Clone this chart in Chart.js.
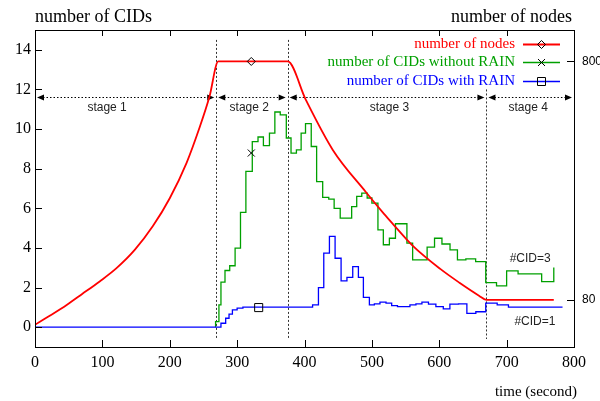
<!DOCTYPE html>
<html>
<head>
<meta charset="utf-8">
<script src="https://cdn.jsdelivr.net/npm/chart.js@4.4.0/dist/chart.umd.min.js"></script>
<style>
html,body{margin:0;padding:0;background:#fff;}
canvas{display:block;}
</style>
</head>
<body>
<canvas id="myChart" width="600" height="401"></canvas>
<script>
// number of nodes (right axis)
const nodeTime  = [0, 20, 47, 70, 96, 121, 148, 175, 200, 225, 244, 259, 272, 375, 402, 442, 491, 518, 531, 560, 602, 630, 659, 670, 770];
const nodeCount = [5, 30, 65, 98, 136, 176, 231, 303, 387, 494, 599, 694, 800, 800, 684, 533, 406, 340, 310, 245, 173, 132, 93, 80, 80];

// number of CIDs without RAIN (step: value starts at time)
const noRainTime = [268, 268, 273, 276, 282, 289, 297, 305, 313, 322.5, 331, 339, 348, 356, 364, 373, 380, 388, 395, 401.5, 410, 418, 427, 436, 444, 453, 470, 477.5, 485, 493, 500, 509, 517, 526, 535, 552, 560.5, 582, 593, 604, 616, 627, 639.5, 654, 669, 685, 700, 717, 752, 770];
const noRainCid  = [0, 0.28, 1.13, 2.27, 2.86, 3.1, 3.99, 5.79, 7.86, 9.37, 9.6, 9.16, 9.8, 10.86, 10.72, 9.55, 8.79, 8.95, 9.8, 10.27, 9.12, 7.35, 6.55, 6.46, 6.0, 5.5, 6.09, 6.6, 6.77, 6.52, 6.26, 4.91, 4.16, 4.49, 5.22, 4.24, 3.4, 4.04, 4.49, 4.2, 3.9, 3.4, 3.45, 3.31, 2.25, 2.09, 2.84, 2.69, 2.3, 3.01];

// number of CIDs with RAIN
const rainTime = [0, 276, 283, 288, 293, 300, 308.6, 412, 420.7, 428.6, 437, 445.4, 454.3, 463, 471.6, 480, 487.4, 496.3, 503.7, 512, 521, 529.4, 538, 556.5, 565.4, 574.3, 584, 595, 606, 615.8, 628.6, 641, 654.3, 669, 686, 702.7, 783];
const rainCid  = [0, 0.2, 0.45, 0.66, 0.87, 0.96, 1.01, 1.13, 2.0, 3.74, 4.58, 3.48, 2.34, 2.51, 3.06, 2.51, 1.5, 1.13, 1.18, 1.26, 1.21, 1.09, 1.04, 1.13, 1.18, 1.26, 1.16, 1.04, 0.92, 1.16, 1.18, 0.7, 0.78, 1.21, 1.13, 1.01, 1.01];

// one marker per series
const markNodes  = {x: 321, y: 800};
const markNoRain = {x: 321, y: 8.79};
const markRain   = {x: 332, y: 0.99};

const xTicks = [0, 100, 200, 300, 400, 500, 600, 700, 800];
const yTicks = [0, 2, 4, 6, 8, 10, 12, 14];
const y2Ticks = [80, 800];

const stageEdges = [0, 269, 375, 670, 800];
const stageNames = ['stage 1', 'stage 2', 'stage 3', 'stage 4'];
const stageLabelX = [107, 318, 526, 732];
const stageLineTop = [14.5, 14.5, 12.0];
const arrowLevel = 11.6;

const serif = "'Liberation Serif', 'DejaVu Serif', serif";
const sans = "'Liberation Sans', Arial, sans-serif";

const toPts = (xs, ys) => xs.map((t, i) => ({x: t, y: ys[i]}));

function arrowHead(ctx, x, y, dir){
    ctx.beginPath();
    ctx.moveTo(x, y);
    ctx.lineTo(x + dir*7, y - 3);
    ctx.lineTo(x + dir*7, y + 3);
    ctx.closePath();
    ctx.fill();
}

function marker(ctx, kind, x, y){
    ctx.save();
    ctx.strokeStyle = '#000';
    ctx.lineWidth = 1;
    ctx.beginPath();
    if(kind === 'diamond'){
        ctx.moveTo(x, y-4); ctx.lineTo(x+4, y); ctx.lineTo(x, y+4); ctx.lineTo(x-4, y); ctx.closePath();
    } else if(kind === 'cross'){
        ctx.moveTo(x-3.5, y-3.5); ctx.lineTo(x+3.5, y+3.5);
        ctx.moveTo(x+3.5, y-3.5); ctx.lineTo(x-3.5, y+3.5);
    } else {
        ctx.rect(x-4, y-4, 8, 8);
    }
    ctx.stroke();
    ctx.restore();
}

const decor = {
    id: 'decor',
    beforeDatasetsDraw(chart){
        const ctx = chart.ctx;
        const x = chart.scales.x, y = chart.scales.y;
        ctx.save();
        ctx.strokeStyle = '#333';
        ctx.lineWidth = 1;
        ctx.setLineDash([2, 2]);
        stageEdges.slice(1, 4).forEach((t, i) => {
            const px = Math.round(x.getPixelForValue(t)) + 0.5;
            ctx.beginPath();
            ctx.moveTo(px, y.getPixelForValue(stageLineTop[i]));
            ctx.lineTo(px, y.getPixelForValue(-0.6));
            ctx.stroke();
        });
        const ay = Math.round(y.getPixelForValue(arrowLevel)) + 0.5;
        ctx.fillStyle = '#000';
        ctx.strokeStyle = '#000';
        for(let i = 0; i < stageEdges.length - 1; i++){
            const x1 = x.getPixelForValue(stageEdges[i]) + 2;
            const x2 = x.getPixelForValue(stageEdges[i+1]) - 2;
            ctx.setLineDash([1.5, 2]);
            ctx.beginPath();
            ctx.moveTo(x1 + 6, ay);
            ctx.lineTo(x2 - 6, ay);
            ctx.stroke();
            ctx.setLineDash([]);
            arrowHead(ctx, x1, ay, 1);
            arrowHead(ctx, x2, ay, -1);
        }
        ctx.font = '12px ' + sans;
        ctx.fillStyle = '#222';
        ctx.textAlign = 'center';
        ctx.textBaseline = 'middle';
        stageNames.forEach((s, i) => {
            ctx.fillText(s, x.getPixelForValue(stageLabelX[i]), y.getPixelForValue(11.1));
        });
        ctx.restore();
    },
    afterDraw(chart){
        const ctx = chart.ctx;
        const a = chart.chartArea;
        const x = chart.scales.x, y = chart.scales.y, y2 = chart.scales.y2;
        ctx.save();
        // frame
        ctx.strokeStyle = '#000';
        ctx.lineWidth = 1;
        ctx.strokeRect(Math.round(a.left)+0.5, Math.round(a.top)+0.5, Math.round(a.right-a.left), Math.round(a.bottom-a.top));
        // inward ticks
        ctx.beginPath();
        xTicks.forEach(v => {
            const px = Math.round(x.getPixelForValue(v)) + 0.5;
            ctx.moveTo(px, a.bottom); ctx.lineTo(px, a.bottom - 7);
            ctx.moveTo(px, a.top); ctx.lineTo(px, a.top + 6);
        });
        yTicks.forEach(v => {
            const py = Math.round(y.getPixelForValue(v)) + 0.5;
            ctx.moveTo(a.left, py); ctx.lineTo(a.left + 7, py);
        });
        y2Ticks.forEach(v => {
            const py = Math.round(y2.getPixelForValue(v)) + 0.5;
            ctx.moveTo(a.right, py); ctx.lineTo(a.right - 7, py);
        });
        ctx.stroke();

        // axis titles
        ctx.fillStyle = '#000';
        ctx.textBaseline = 'middle';
        ctx.font = '18px ' + serif;
        ctx.textAlign = 'left';
        ctx.fillText('number of CIDs', 35, 17);
        ctx.textAlign = 'right';
        ctx.fillText('number of nodes', 572, 17);
        ctx.font = '15px ' + serif;
        ctx.fillText('time (second)', 577, 392);

        // notes
        ctx.font = '12px ' + sans;
        ctx.fillStyle = '#222';
        ctx.textAlign = 'center';
        ctx.fillText('#CID=3', x.getPixelForValue(735), y.getPixelForValue(3.45));
        ctx.fillText('#CID=1', x.getPixelForValue(742), y.getPixelForValue(0.28));

        // legend
        const kinds = ['diamond', 'cross', 'square'];
        const rows = [44, 62, 81];
        ctx.font = '15px ' + serif;
        ctx.textAlign = 'right';
        [0, 1, 2].forEach(i => {
            const ds = chart.data.datasets[i];
            ctx.fillStyle = ds.borderColor;
            ctx.fillText(ds.label, 515, rows[i]);
            ctx.strokeStyle = ds.borderColor;
            ctx.lineWidth = ds.borderWidth;
            ctx.beginPath();
            ctx.moveTo(523, rows[i] + 0.5);
            ctx.lineTo(560, rows[i] + 0.5);
            ctx.stroke();
            marker(ctx, kinds[i], 541.5, rows[i] + 0.5);
        });
        ctx.restore();
    }
};

const ctx = document.getElementById('myChart');
const myChart = new Chart(ctx, {
    type: 'line',
    data: {
        datasets: [{
            label: 'number of nodes',
            data: toPts(nodeTime, nodeCount),
            yAxisID: 'y2',
            order: 0,
            borderColor: '#ff0000',
            borderWidth: 1.8,
            pointRadius: 0,
            cubicInterpolationMode: 'monotone'
        }, {
            label: 'number of CIDs without RAIN',
            data: toPts(noRainTime, noRainCid),
            yAxisID: 'y',
            order: 2,
            borderColor: '#00a000',
            borderWidth: 1.3,
            pointRadius: 0,
            stepped: 'before'
        }, {
            label: 'number of CIDs with RAIN',
            data: toPts(rainTime, rainCid),
            yAxisID: 'y',
            order: 1,
            borderColor: '#0000ff',
            borderWidth: 1.3,
            pointRadius: 0,
            stepped: 'before'
        }, {
            label: '',
            data: [markNodes],
            yAxisID: 'y2',
            order: -1,
            showLine: false,
            pointStyle: 'rectRot',
            pointRadius: 4,
            pointBorderColor: '#000',
            pointBackgroundColor: 'rgba(0,0,0,0)',
            pointBorderWidth: 1
        }, {
            label: '',
            data: [markNoRain],
            yAxisID: 'y',
            order: -1,
            showLine: false,
            pointStyle: 'crossRot',
            pointRadius: 5,
            pointBorderColor: '#000',
            pointBorderWidth: 1
        }, {
            label: '',
            data: [markRain],
            yAxisID: 'y',
            order: -1,
            showLine: false,
            pointStyle: 'rect',
            pointRadius: 5.7,
            pointBorderColor: '#000',
            pointBackgroundColor: 'rgba(0,0,0,0)',
            pointBorderWidth: 1
        }]
    },
    options: {
        responsive: false,
        animation: false,
        layout: { padding: { top: 30, left: 0, right: 0, bottom: 0 } },
        plugins: { legend: { display: false }, tooltip: { enabled: false } },
        scales: {
            x: {
                type: 'linear', min: 0, max: 800,
                afterBuildTicks: s => { s.ticks = xTicks.map(v => ({value: v})); },
                afterFit: s => { s.height = 54; },
                grid: { display: false, drawTicks: false },
                border: { display: false },
                ticks: { autoSkip: false, maxRotation: 0, padding: 6, color: '#000', font: { family: serif, size: 16 } }
            },
            y: {
                type: 'linear', position: 'left', min: -1, max: 15,
                afterBuildTicks: s => { s.ticks = yTicks.map(v => ({value: v})); },
                afterFit: s => { s.width = 35; },
                grid: { display: false, drawTicks: false },
                border: { display: false },
                ticks: { autoSkip: false, padding: 4, color: '#000', font: { family: serif, size: 16 } }
            },
            y2: {
                type: 'linear', position: 'right', min: -62, max: 895,
                afterBuildTicks: s => { s.ticks = y2Ticks.map(v => ({value: v})); },
                afterFit: s => { s.width = 26; },
                grid: { display: false, drawTicks: false },
                border: { display: false },
                ticks: { autoSkip: false, padding: 8, color: '#000', font: { family: sans, size: 12 } }
            }
        }
    },
    plugins: [decor]
});
</script>
</body>
</html>
